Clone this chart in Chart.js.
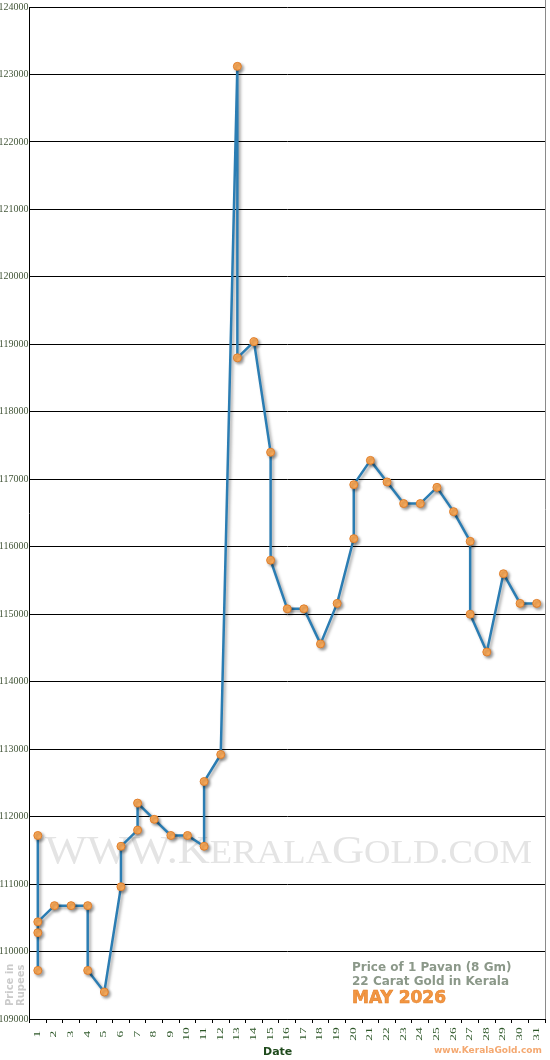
<!DOCTYPE html>
<html>
<head>
<meta charset="utf-8">
<script src="https://cdn.jsdelivr.net/npm/chart.js@4.4.1/dist/chart.umd.min.js"></script>
<style>
    html, body { margin: 0; padding: 0; background: #fff; }
    #wrap { width: 550px; height: 1060px; position: relative; }
</style>
</head>
<body>
<div id="wrap"><canvas id="goldChart"></canvas></div>
<script>
// dates of the month (x categories)
const days = ["1", "2", "3", "4", "5", "6", "7", "8", "9", "10", "11", "12", "13", "14", "15", "16",
    "17", "18", "19", "20", "21", "22", "23", "24", "25", "26", "27", "28", "29", "30", "31"];

// every price change, in order: the day it happened and the pavan price
const pointDays = [1, 1, 1, 1, 2, 3, 4, 4, 5, 6, 6, 7, 7, 8, 9, 10, 11, 11, 12, 13, 13, 14,
    15, 15, 16, 17, 18, 19, 20, 20, 21, 22, 23, 24, 25, 26, 27, 27, 28, 29, 30, 31];
const pointPrices = [111720, 109720, 110280, 110440, 110680, 110680, 110680, 109720, 109400,
    110960, 111560, 111800, 112200, 111960, 111720, 111720, 111560, 112520, 112920, 123120,
    118800, 119040, 117400, 115800, 115080, 115080, 114560, 115160, 116120, 116920, 117280,
    116960, 116640, 116640, 116880, 116520, 116080, 115000, 114440, 115600, 115160, 115160];

// y axis tick range
const yMin = 109000;
const yMax = 124000;
const yStep = 1000;

const legendLines = ["Price of 1 Pavan (8 Gm)", "22 Carat Gold in Kerala"];
const legendMonth = "MAY 2026";

const points = pointDays.map(function (d, i) {
    return { x: String(d), y: pointPrices[i] };
});

const decorPlugin = {
    id: "decor",
    beforeDatasetsDraw: function (chart) {
        const ctx = chart.ctx;
        const area = chart.chartArea;
        // watermark
        ctx.save();
        const parts = [
            ["WWW.", 40], ["K", 40], ["ERALA", 33], ["G", 40], ["OLD.COM", 33]
        ];
        let total = 0;
        parts.forEach(function (p) {
            ctx.font = p[1] + "px 'Liberation Serif', serif";
            total += ctx.measureText(p[0]).width;
        });
        const sx = 487 / total;
        ctx.translate(45, 863);
        ctx.scale(sx, 1);
        ctx.fillStyle = "#e4e4e4";
        ctx.textBaseline = "alphabetic";
        let cx = 0;
        parts.forEach(function (p) {
            ctx.font = p[1] + "px 'Liberation Serif', serif";
            ctx.fillText(p[0], cx, 0);
            cx += ctx.measureText(p[0]).width;
        });
        ctx.restore();

        // right frame line
        ctx.save();
        ctx.strokeStyle = "#8a8a8a";
        ctx.lineWidth = 1;
        ctx.beginPath();
        ctx.moveTo(area.right + 0.5, 0);
        ctx.lineTo(area.right + 0.5, area.bottom);
        ctx.stroke();
        ctx.restore();

        // shadow for line and points
        ctx.save();
        ctx.shadowColor = "rgba(0,0,0,0.35)";
        ctx.shadowOffsetX = 2;
        ctx.shadowOffsetY = 2;
        ctx.shadowBlur = 3;
    },
    afterDatasetsDraw: function (chart) {
        chart.ctx.restore();
    },
    afterDraw: function (chart) {
        const ctx = chart.ctx;
        const xs = chart.scales.x;

        // date labels, rotated and stretched like the original
        ctx.save();
        ctx.fillStyle = "#2b5526";
        ctx.font = "7.5px 'Liberation Serif', serif";
        ctx.textAlign = "center";
        ctx.textBaseline = "middle";
        xs.ticks.forEach(function (t, i) {
            ctx.save();
            ctx.translate(xs.getPixelForTick(i), 1034);
            ctx.rotate(-Math.PI / 2);
            ctx.scale(1.8, 1);
            ctx.fillText(days[i], 0, 0);
            ctx.restore();
        });
        ctx.restore();

        ctx.save();
        ctx.textBaseline = "middle";
        ctx.textAlign = "left";

        ctx.font = "bold 12px 'DejaVu Sans', Verdana, sans-serif";
        ctx.fillStyle = "#8b9889";
        ctx.fillText(legendLines[0], 352, 968);
        ctx.fillText(legendLines[1], 352, 982);

        ctx.font = "bold 17px 'DejaVu Sans', Verdana, sans-serif";
        ctx.fillStyle = "#f29642";
        ctx.strokeStyle = "#e5802a";
        ctx.lineWidth = 0.6;
        ctx.fillText(legendMonth, 352, 999);
        ctx.strokeText(legendMonth, 352, 999);

        ctx.font = "bold 11px 'DejaVu Sans', Verdana, sans-serif";
        ctx.fillStyle = "#1f4a1c";
        ctx.fillText("Date", 263, 1052);

        ctx.font = "bold 9px 'DejaVu Sans', Verdana, sans-serif";
        ctx.fillStyle = "#f4a870";
        ctx.fillText("www.KeralaGold.com", 434, 1051);

        // rotated axis caption
        ctx.translate(0, 1006);
        ctx.rotate(-Math.PI / 2);
        ctx.font = "bold 10px 'DejaVu Sans', Verdana, sans-serif";
        ctx.fillStyle = "#cbcbcb";
        ctx.fillText("Price in", 0, 10);
        ctx.fillText("Rupees", 0, 21.5);
        ctx.restore();
    }
};

const chart = new Chart(document.getElementById("goldChart"), {
    type: "line",
    data: {
        labels: days,
        datasets: [
            {
                label: "Price",
                data: points,
                borderColor: "#2b7db3",
                borderWidth: 2.5,
                tension: 0,
                pointRadius: 4,
                pointBackgroundColor: "#fbab5a",
                pointBorderColor: "#e07f2c",
                pointBorderWidth: 1,
            },
        ],
    },
    options: {
        responsive: true,
        maintainAspectRatio: false,
        animation: false,
        layout: {
            padding: { top: 6, right: 1.5, left: 0, bottom: 0 },
        },
        plugins: {
            legend: { display: false },
            tooltip: { enabled: false },
        },
        scales: {
            x: {
                type: "category",
                offset: true,
                afterFit: function (scale) {
                    scale.height = 41;
                    scale.paddingLeft = 0;
                    scale.paddingRight = 0;
                },
                grid: {
                    display: true,
                    drawOnChartArea: false,
                    drawTicks: true,
                    tickLength: 4,
                    offset: true,
                    color: "#000",
                },
                border: { display: true, color: "#000", width: 1 },
                ticks: {
                    display: false,
                    autoSkip: false,
                },
            },
            y: {
                min: yMin,
                max: yMax,
                afterFit: function (scale) {
                    scale.width = 29.5;
                },
                grid: {
                    color: "#000",
                    lineWidth: 1,
                    drawTicks: false,
                },
                border: { display: true, color: "#000", width: 1 },
                ticks: {
                    stepSize: yStep,
                    padding: 1,
                    color: "#44573a",
                    font: { family: "'Liberation Serif', serif", size: 10 },
                    callback: function (value) {
                        return String(value);
                    },
                },
            },
        },
    },
    plugins: [decorPlugin],
});
</script>
</body>
</html>
